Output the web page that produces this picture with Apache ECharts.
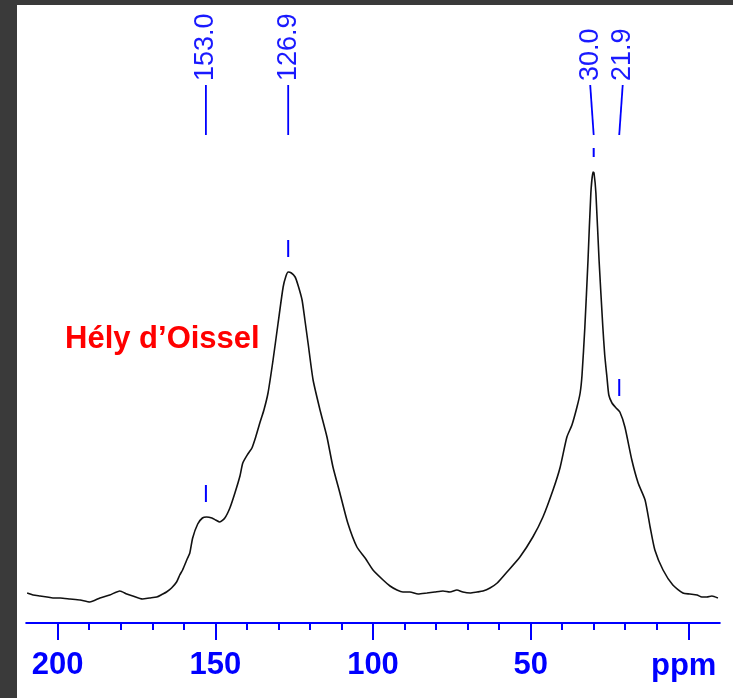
<!DOCTYPE html>
<html><head><meta charset="utf-8">
<script src="https://cdn.jsdelivr.net/npm/echarts@6/dist/echarts.min.js"></script>
<style>
html,body{margin:0;padding:0;background:#3a3a3a;width:733px;height:698px;overflow:hidden;}
#chart{position:absolute;left:17px;top:5px;width:716px;height:693px;background:#fff;}
</style></head><body><div id="chart"></div>
<script>
// chemical shift (ppm) and signal intensity (arbitrary units)
const ppm = [209.7,207.8,205.6,203.4,201.5,199.2,196.1,192.9,189.8,186.6,183.5,180.3,178.1,176.2,173.1,170.9,168.6,166.7,165.5,163.9,162.3,161.3,160.4,158.8,158.1,157.2,155.6,154.1,152.8,151.1,149.9,148.6,147.0,145.4,143.8,142.2,141.3,139.7,138.4,137.2,135.9,134.6,133.3,131.7,130.1,128.5,127.6,126.9,125.9,124.7,123.7,122.5,121.6,120.6,119.0,116.8,114.6,112.7,110.5,108.0,105.1,102.5,100.0,96.8,94.6,92.4,90.5,88.3,85.7,82.9,80.4,77.8,75.6,73.4,71.5,69.2,67.0,65.1,62.9,60.6,57.5,53.4,49.3,46.1,42.9,40.7,38.5,36.9,35.3,34.3,33.7,32.8,31.8,30.9,30.2,29.9,29.3,28.3,27.1,26.5,25.8,25.2,24.2,22.9,21.7,20.1,17.9,15.9,13.7,12.1,10.6,8.0,4.9,1.7,-0.5,-2.8,-4.3,-5.9,-7.5,-9.4];
const intensity = [5,3,2,1,0,0,-1,-2,-4,0,3,7,4,2,-1,0,1,4,6,10,16,23,28,40,45,60,74,80,81,80,78,76,80,90,105,122,135,144,150,161,175,188,205,238,275,311,322,326,325,321,312,298,278,255,218,188,161,131,105,75,51,40,28,18,12,8,6,6,4,5,6,7,6,8,6,5,6,7,10,15,26,41,61,81,108,130,161,173,191,205,223,271,338,405,426,425,405,338,271,243,221,203,195,190,186,171,138,115,98,71,48,28,13,5,4,3,1,1,2,0];
const peakPpm = [153.0, 126.9, 30.0, 21.9];
const peakIntensity = [81, 326, 426, 187];
const peakLabels = ['153.0', '126.9', '30.0', '21.9'];
const axisRange = [-10, 210];
const labelRange = [0, 200];
const majorStep = 50;
const sampleName = 'Hély d\u2019Oissel';
const unitLabel = 'ppm';

const BLUE = '#0000ff';
const FONT = '"Liberation Sans", Arial, Helvetica, sans-serif';

function spread(xs, gap) {
  const out = xs.slice();
  let i = 0;
  while (i < xs.length) {
    let j = i;
    while (j + 1 < xs.length && xs[j + 1] - xs[j] < gap) j++;
    if (j > i) {
      let s = 0; for (let k = i; k <= j; k++) s += xs[k];
      const mean = s / (j - i + 1);
      for (let k = i; k <= j; k++) out[k] = mean + (k - i - (j - i) / 2) * gap;
    }
    i = j + 1;
  }
  return out;
}

function renderPeak(params, api) {
  const i = params.dataIndex;
  const xs = peakPpm.map((p, k) => api.coord([p, peakIntensity[k]])[0]);
  const lx = spread(xs, 32.5)[i];
  const pt = api.coord([api.value(0), api.value(1)]);
  const top = Math.max(pt[1] - 32, 143), bottom = pt[1] - 15;
  return {
    type: 'group',
    children: [
      { type: 'text', x: lx, y: 76, rotation: Math.PI / 2,
        style: { text: peakLabels[i], x: 0, y: 0, align: 'left', verticalAlign: 'middle',
                 fill: '#1a1aff', font: '27px ' + FONT } },
      { type: 'line', shape: { x1: lx, y1: 80, x2: pt[0], y2: 130 },
        style: { stroke: BLUE, lineWidth: 1.8 } },
      { type: 'line', shape: { x1: pt[0], y1: top, x2: pt[0], y2: bottom },
        style: { stroke: BLUE, lineWidth: 2 } }
    ]
  };
}

const chart = echarts.init(document.getElementById('chart'), null, { renderer: 'canvas' });
chart.setOption({
  animation: false,
  backgroundColor: '#ffffff',
  grid: [
    { left: 9.2, right: 13.2, top: 0, bottom: 75 },
    { left: 40.7, right: 44.7, top: 0, bottom: 75 }
  ],
  xAxis: [
    { gridIndex: 0, type: 'value', min: axisRange[0], max: axisRange[1], inverse: true,
      axisLine: { show: true, onZero: false, lineStyle: { color: BLUE, width: 2 } },
      axisTick: { show: false }, axisLabel: { show: false }, splitLine: { show: false } },
    { gridIndex: 1, type: 'value', min: labelRange[0], max: labelRange[1], interval: majorStep, inverse: true,
      axisLine: { show: false, onZero: false },
      axisTick: { show: true, inside: false, length: 17, lineStyle: { color: BLUE, width: 2 } },
      minorTick: { show: true, splitNumber: 5, length: 7, lineStyle: { color: BLUE, width: 2 } },
      axisLabel: { show: true, margin: 42, verticalAlign: 'middle', color: BLUE, fontWeight: 'bold',
                   fontSize: 31, fontFamily: FONT, showMinLabel: false, showMaxLabel: true },
      splitLine: { show: false }, minorSplitLine: { show: false } }
  ],
  yAxis: [
    { gridIndex: 0, type: 'value', min: -25, max: 593, show: false, splitLine: { show: false } },
    { gridIndex: 1, type: 'value', min: 0, max: 1, show: false, splitLine: { show: false } }
  ],
  series: [
    { type: 'line', xAxisIndex: 0, yAxisIndex: 0, data: ppm.map((p, i) => [p, intensity[i]]),
      showSymbol: false, symbol: 'none', smooth: 0.2,
      lineStyle: { color: '#111111', width: 1.6 } },
    { type: 'custom', xAxisIndex: 0, yAxisIndex: 0, renderItem: renderPeak,
      data: peakPpm.map((p, i) => [p, peakIntensity[i]]), z: 5 }
  ],
  graphic: [
    { type: 'text', x: 48, y: 334, style: { text: sampleName, fill: '#ff0000',
      font: 'bold 31px ' + FONT, verticalAlign: 'middle' } },
    { type: 'text', x: 634, y: 661, style: { text: unitLabel, fill: BLUE,
      font: 'bold 31px ' + FONT, verticalAlign: 'middle' } }
  ]
});
</script></body></html>
